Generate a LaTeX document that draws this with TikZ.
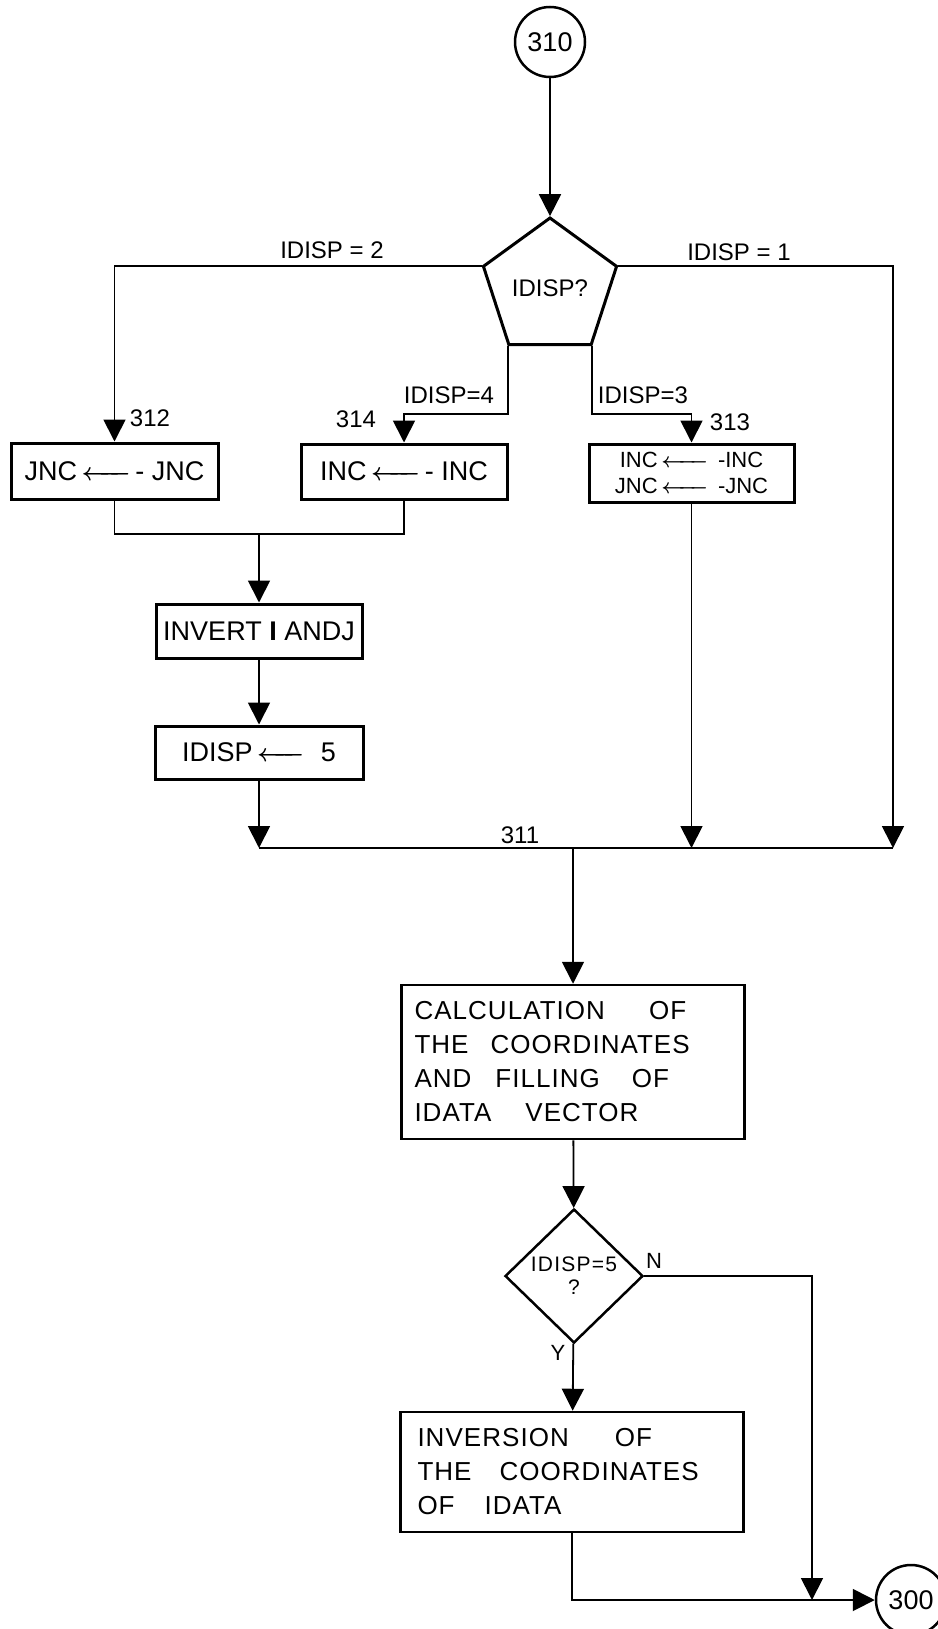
\documentclass[tikz,border=0pt]{standalone}
\usepackage{fontspec}
\setmainfont{Liberation Sans}
\usepackage{amsmath}
\usepackage{tikz}
\usetikzlibrary{positioning, shapes.geometric, arrows.meta, calc}
\newcommand{\assignarrow}[1]{\,\mbox{\boldmath$\xleftarrow{\hspace{#1}}$}\,}

\begin{document}
\begin{tikzpicture}[
                x=1pt, y=-1pt,
                box/.style={draw=black, line width=3pt, rectangle, inner sep=0pt, minimum width=206pt, minimum height=55pt, font=\fontsize{27}{30}\selectfont},
                bigbox/.style={draw=black, line width=2.5pt, rectangle, align=left, inner xsep=13pt, text width=317pt, font=\fontsize{26}{34}\selectfont\addfontfeatures{LetterSpace=4}},
                conn/.style={draw=black, line width=2.5pt, circle, minimum size=70pt, inner sep=0pt, font=\fontsize{27}{30}\selectfont},
                edge/.style={line width=1.8pt},
                flow/.style={edge, -{Triangle[length=22pt,width=22pt]}},
                varlabel/.style={inner sep=0pt, font=\fontsize{24}{26}\selectfont}
            ]
            \useasboundingbox (0,0) rectangle (937,1629);

            % Knoten
            \node[conn] (n310) at (550,42) {310};
            \node[draw=black, line width=3pt, regular polygon, regular polygon sides=5, minimum size=140pt, inner sep=0pt, font=\fontsize{24}{26}\selectfont] (sel) at (550,288) {IDISP?};
            \node[box, minimum width=207pt, minimum height=56pt] (b312) at (114.5,471) {JNC\assignarrow{34pt}- JNC};
            \node[box] (b314) at (404,471.5) {INC\assignarrow{34pt}- INC};
            \node[box, minimum width=205pt, minimum height=58pt, align=center, font=\fontsize{22}{26}\selectfont] (b313) at (691.5,473) {INC\assignarrow{34pt}\ -INC\\JNC\assignarrow{34pt}\ -JNC};
            \node[box, minimum height=54pt] (binv) at (259,631) {INVERT \textbf{I} ANDJ};
            \node[box, minimum width=208pt, minimum height=53pt] (bset) at (259,752.5) {IDISP\assignarrow{32pt}\hspace{12pt}5};
            \node[bigbox, minimum height=154pt] (calc) at (573,1062) {CALCULATION\hspace{44pt}OF\\THE\hspace{22pt}COORDINATES\\AND\hspace{24pt}FILLING\hspace{32pt}OF\\IDATA\hspace{34pt}VECTOR};
            \node[draw=black, line width=2.5pt, diamond, minimum width=138pt, minimum height=134pt, inner sep=0pt, align=center, font=\fontsize{21}{23}\selectfont\addfontfeatures{LetterSpace=6}] (dec) at (574,1276) {IDISP=5\\?};
            \node[bigbox, inner xsep=17pt, text width=309pt, minimum height=120pt] (inv) at (572,1472) {INVERSION\hspace{46pt}OF\\THE\hspace{28pt}COORDINATES\\OF\hspace{30pt}IDATA};
            \node[conn] (n300) at (911,1600) {300};

            \coordinate (m1) at (259,534);
            \coordinate (j1) at (259,848);
            \coordinate (j2) at (691.5,848);
            \coordinate (j3) at (893,848);
            \coordinate (jm) at (573,848);
            \coordinate (r300) at (812,1600);

            % Beschriftungen
            \node[varlabel] (l2) at (332,250) {IDISP = 2};
            \node[varlabel] (l1) at (739,252) {IDISP = 1};
            \node[varlabel] (l4) at (449,395) {IDISP=4};
            \node[varlabel] (l3) at (643,395) {IDISP=3};
            \node[varlabel] (t312) at (150,418) {312};
            \node[varlabel] (t314) at (356,419) {314};
            \node[varlabel] (t313) at (730,422) {313};
            \node[varlabel] (t311) at (520,835) {311};
            \node[varlabel, font=\fontsize{22}{24}\selectfont] (tn) at (654,1261) {N};
            \node[varlabel, font=\fontsize{22}{24}\selectfont] (ty) at (558,1353) {Y};

            % Kanten zwischen Knoten
            \draw[flow] (n310) -- (sel.corner 1);
            \draw[flow] (sel.corner 2) -| (b312.north);
            \draw[flow] (sel.corner 5) -| (j3);
            \draw[flow] (sel.corner 3) -- ++(0,68) -| (b314.north);
            \draw[flow] (sel.corner 4) -- ++(0,68) -| (b313.north);
            \draw[edge] (b312.south) |- (m1) -| (b314.south);
            \draw[flow] (m1) -- (binv.north);
            \draw[flow] (binv) -- (bset);
            \draw[flow] (bset) -- (j1);
            \draw[flow] (b313) -- (j2);
            \draw[edge] (j1) -- (j3);
            \draw[flow] (jm) -- (calc);
            \draw[flow] (calc) -- (dec);
            \draw[flow] (dec) -- (inv);
            \draw[flow] (dec.east) -| (r300);
            \draw[flow] (inv.south) |- (n300);

        \end{tikzpicture}
\end{document}
